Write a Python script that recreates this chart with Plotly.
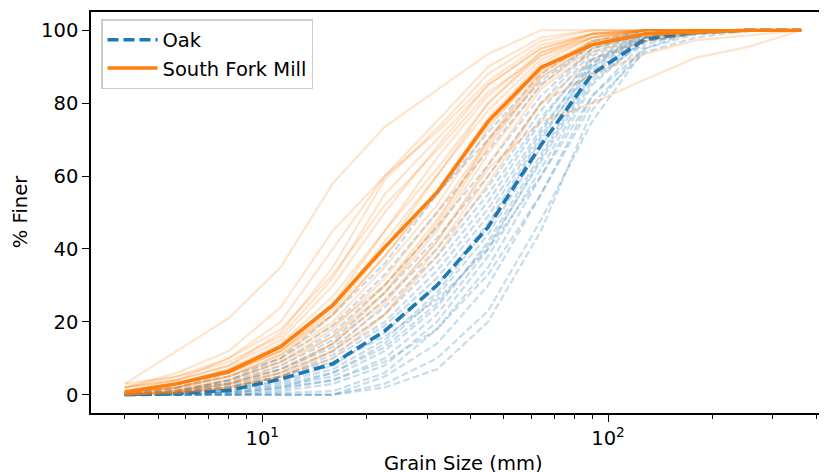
import plotly.graph_objects as go

sizes = [4, 5.66, 8, 11.3, 16, 22.6, 32, 45, 64, 90, 128, 180, 256, 362]

oak_mean = [0, 0.3, 1.2, 4.3, 8.5, 17.5, 30, 46, 68.5, 88, 97.5, 99.5, 100, 100]
sfm_mean = [0.7, 3, 6.4, 13.2, 24.6, 40.5, 55.5, 75, 89.8, 96, 99, 99.5, 100, 100]

oak_samples = [
    [0, 0, 0, 0, 0, 3, 10, 23, 48, 75, 95, 100, 100, 100],
    [0, 0, 0, 0, 0, 5, 14, 30, 55, 82, 97, 100, 100, 100],
    [0, 0, 0, 0.5, 1, 6, 18, 35, 60, 85, 98, 100, 100, 100],
    [0, 0, 0, 1, 3, 8, 20, 38, 62, 86, 97, 99, 100, 100],
    [0, 0, 0.5, 1.5, 4, 10, 22, 40, 65, 88, 98, 100, 100, 100],
    [0, 0.3, 1, 2.5, 5, 12, 24, 42, 66, 89, 98, 100, 100, 100],
    [0, 0, 0.5, 2, 6, 14, 27, 44, 68, 90, 99, 100, 100, 100],
    [0, 0.5, 1.5, 3.5, 7, 15, 28, 46, 70, 91, 99, 100, 100, 100],
    [0, 0.5, 1.5, 4, 8, 17, 30, 47, 71, 90, 98, 100, 100, 100],
    [0, 0.5, 2, 5, 10, 19, 32, 49, 72, 92, 99, 100, 100, 100],
    [0, 1, 2, 5, 11, 20, 34, 51, 73, 91, 98, 100, 100, 100],
    [0, 0.5, 2.5, 6, 12, 22, 36, 53, 75, 93, 99, 100, 100, 100],
    [0.3, 1, 3, 7, 13, 24, 38, 55, 76, 92, 98, 99, 100, 100],
    [0, 1, 3, 7, 14, 26, 40, 57, 78, 94, 99, 100, 100, 100],
    [0.5, 1.5, 3.5, 8, 15, 28, 43, 60, 80, 95, 99, 100, 100, 100],
    [0, 1, 4, 9, 17, 30, 46, 63, 82, 95, 99, 100, 100, 100],
    [0.5, 2, 5, 10, 19, 33, 50, 67, 85, 96, 100, 100, 100, 100],
    [0, 1, 4, 10, 22, 36, 55, 72, 88, 97, 100, 100, 100, 100],
    [0, 0.5, 2, 5, 9, 16, 26, 40, 60, 82, 95, 99, 100, 100],
    [0, 0, 0.5, 2, 4, 9, 18, 33, 55, 80, 94, 98, 100, 100],
    [0, 0, 0, 0, 0, 2, 7, 20, 45, 78, 96, 100, 100, 100],
    [0, 0.5, 1, 3, 6, 13, 25, 41, 64, 87, 97, 99, 100, 100],
    [0.5, 2, 6, 13, 25, 40, 55, 70, 86, 96, 100, 100, 100, 100],
]

sfm_samples = [
    [3, 12, 21, 35, 58, 73.5, 83.5, 93.5, 100, 100, 100, 100, 100, 100],
    [0, 0.5, 2, 5, 12, 25, 42, 62, 75, 80, 86.5, 92.5, 95.5, 100],
    [0, 0.5, 2, 5, 10, 22, 40, 60, 80, 88, 93.5, 97.3, 98.6, 100],
    [3, 5, 9, 16, 32, 55, 70, 85, 95, 99, 100, 100, 100, 100],
    [2, 4, 8, 15, 30, 50, 68, 85, 95, 99, 100, 100, 100, 100],
    [1, 3, 7, 13, 25, 45, 65, 82, 94, 98, 100, 100, 100, 100],
    [1, 4, 8, 17, 35, 59, 73, 88, 97, 100, 100, 100, 100, 100],
    [0.5, 2, 6, 12, 22, 38, 56, 76, 91, 98, 100, 100, 100, 100],
    [0.5, 2, 5, 11, 20, 35, 52, 73, 90, 97, 99, 100, 100, 100],
    [0, 1.5, 4, 9, 18, 32, 50, 70, 88, 97, 100, 100, 100, 100],
    [0, 1, 4, 9, 16, 28, 45, 66, 85, 95, 99, 100, 100, 100],
    [1, 3, 6, 12, 23, 40, 60, 80, 93, 99, 100, 100, 100, 100],
    [0.5, 2, 5, 10, 19, 30, 46, 68, 87, 96, 99, 100, 100, 100],
    [2, 4, 10, 20, 40, 60, 75, 90, 98, 100, 100, 100, 100, 100],
    [0, 1, 3, 7, 14, 26, 42, 63, 84, 94, 98, 100, 100, 100],
    [1, 3, 7, 14, 27, 45, 62, 80, 94, 99, 100, 100, 100, 100],
    [0.5, 2, 5, 11, 22, 38, 55, 74, 89, 96, 99, 100, 100, 100],
    [0, 1, 3, 8, 16, 30, 48, 69, 87, 96, 99, 100, 100, 100],
    [2, 5, 10, 18, 33, 52, 67, 83, 93, 98, 100, 100, 100, 100],
    [0, 0.5, 2, 6, 14, 28, 47, 70, 89, 97, 100, 100, 100, 100],
    [1, 3, 6, 12, 24, 42, 60, 78, 92, 98, 100, 100, 100, 100],
    [0, 1, 3, 6, 12, 22, 38, 58, 80, 92, 97, 99, 100, 100],
    [2, 6, 12, 24, 45, 60, 72, 86, 96, 99, 100, 100, 100, 100],
]

x_tick_vals = [10, 100]
x_tick_text = ["10<sup>1</sup>", "10<sup>2</sup>"]
x_minor_vals = [4, 5, 6, 7, 8, 9, 20, 30, 40, 50, 60, 70, 80, 90, 200, 300, 400]
y_tick_vals = [0, 20, 40, 60, 80, 100]

BLUE = "#1f77b4"
ORANGE = "#ff7f0e"
FAINT_BLUE = "rgba(31,119,180,0.25)"
FAINT_ORANGE = "rgba(255,127,14,0.22)"
FONT = "DejaVu Sans"
FS = 19.5

fig = go.Figure()
for s in oak_samples:
    fig.add_trace(go.Scatter(x=sizes, y=s, mode="lines", showlegend=False, hoverinfo="skip",
                             line=dict(color=FAINT_BLUE, width=2.2, dash="7px,3px")))
fig.add_trace(go.Scatter(x=sizes, y=oak_mean, mode="lines", name="Oak",
                         line=dict(color=BLUE, width=3.6, dash="11px,5px")))
for s in sfm_samples:
    fig.add_trace(go.Scatter(x=sizes, y=s, mode="lines", showlegend=False, hoverinfo="skip",
                             line=dict(color=FAINT_ORANGE, width=2.2)))
fig.add_trace(go.Scatter(x=sizes, y=sfm_mean, mode="lines", name="South Fork Mill",
                         line=dict(color=ORANGE, width=3.6)))

# page has an 8px body margin: the figure is placed at (8, 8)
OFF = 8
W, H = 827 - OFF, 472 - OFF
# plot area in page pixels
PX0, PX1, PY0, PY1 = 91, 827, 12, 412.7
L, T = PX0 - OFF, PY0 - OFF
R = W - (PX1 - OFF)
B = H - (PY1 - OFF)
pw = PX1 - PX0
ph = PY1 - PY0

fig.update_layout(
    width=W, height=H,
    margin=dict(l=L, r=R, t=T, b=B, pad=0, autoexpand=False),
    paper_bgcolor="white", plot_bgcolor="white",
    font=dict(family=FONT, size=FS, color="black"),
    showlegend=True,
    legend=dict(x=10 / pw, y=1 - 7 / ph, xanchor="left", yanchor="top",
                bgcolor="rgba(255,255,255,0.8)", bordercolor="#cccccc", borderwidth=1.5,
                itemwidth=50,
                font=dict(family=FONT, size=FS), tracegroupgap=0),
    xaxis=dict(type="log", range=[0.5045, 2.6335], showgrid=False, zeroline=False,
               automargin=False,
               showline=True, linecolor="black", linewidth=1.5, mirror=True,
               ticks="outside", ticklen=7, tickwidth=1.3, tickcolor="black",
               tickmode="array", tickvals=x_tick_vals, ticktext=x_tick_text,
               minor=dict(tickmode="array", tickvals=x_minor_vals, ticks="outside",
                          ticklen=4, tickwidth=1.1, tickcolor="black", showgrid=False),
               tickfont=dict(family=FONT, size=FS)),
    yaxis=dict(range=[-5, 105], showgrid=False, zeroline=False, automargin=False,
               showline=True, linecolor="black", linewidth=1.5,
               ticks="outside", ticklen=7, tickwidth=1.3, tickcolor="black",
               tickmode="array", tickvals=y_tick_vals,
               tickfont=dict(family=FONT, size=FS)),
    annotations=[
        dict(text="Grain Size (mm)", xref="paper", yref="paper",
             x=(463 - PX0) / pw, y=-(463 - PY1) / ph, xanchor="center", yanchor="middle",
             showarrow=False, font=dict(family=FONT, size=FS)),
        dict(text="% Finer", xref="paper", yref="paper", textangle=-90,
             x=(20 - PX0) / pw, y=(PY1 - 212) / ph, xanchor="center", yanchor="middle",
             showarrow=False, font=dict(family=FONT, size=FS)),
    ],
)

fig.write_html("out.html")
